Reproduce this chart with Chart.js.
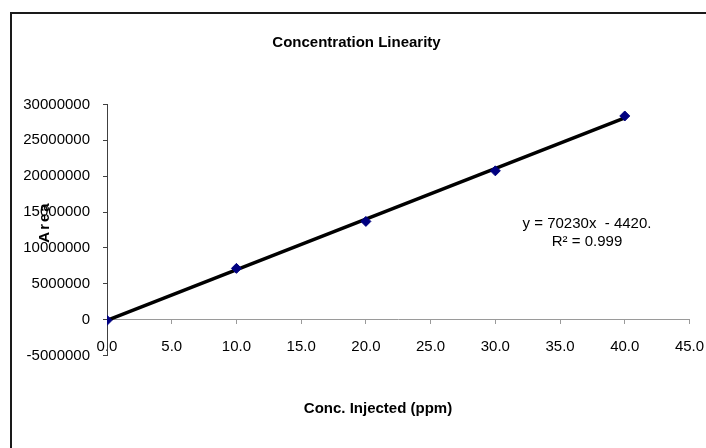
<!DOCTYPE html>
<html>
<head>
<meta charset="utf-8">
<script src="https://cdn.jsdelivr.net/npm/chart.js@4"></script>
<style>
  html, body { margin: 0; padding: 0; background: #fff; }
  #wrap { position: relative; width: 706px; height: 448px; overflow: hidden; background: #fff; }
  #frame { position: absolute; left: 10px; top: 12px; width: 900px; height: 900px; border: 2px solid #1a1a1a; box-sizing: border-box; pointer-events: none; }
  canvas { position: absolute; left: 0; top: 0; }
</style>
</head>
<body>
<div id="wrap">
  <canvas id="c" width="706" height="448"></canvas>
  <div id="frame"></div>
</div>
<script>
// ---- data ----
const chartTitle = 'Concentration Linearity';
const xAxisTitle = 'Conc. Injected (ppm)';
const yAxisTitle = 'Area';
const equationLines = ['y = 70230x  - 4420.', 'R\u00B2 = 0.999'];

const concX = [0, 10, 20, 30, 40];
const areaY = [-100000, 7150000, 13700000, 20750000, 28400000];

const trendX = [0, 40];
const trendY = [-100000, 28150000];

const xTickValues = [0, 5, 10, 15, 20, 25, 30, 35, 40, 45];
const xTickLabels = ['0.0', '5.0', '10.0', '15.0', '20.0', '25.0', '30.0', '35.0', '40.0', '45.0'];
const yTickValues = [-5000000, 0, 5000000, 10000000, 15000000, 20000000, 25000000, 30000000];
const yTickLabels = ['-5000000', '0', '5000000', '10000000', '15000000', '20000000', '25000000', '30000000'];

const FONT = "'Liberation Sans', Arial, sans-serif";

const pointsData = concX.map((x, i) => ({ x: x, y: areaY[i] }));
const trendData = trendX.map((x, i) => ({ x: x, y: trendY[i] }));

const textPlugin = {
  id: 'texts',
  afterDraw(chart) {
    const ctx = chart.ctx;
    ctx.save();
    ctx.fillStyle = '#000';
    ctx.textAlign = 'center';
    ctx.textBaseline = 'middle';
    ctx.font = 'bold 15px ' + FONT;
    ctx.fillText(chartTitle, 356.5, 43);
    ctx.fillText(xAxisTitle, 378, 409);
    ctx.save();
    ctx.translate(45, 222);
    ctx.rotate(-Math.PI / 2);
    try { ctx.letterSpacing = '2px'; } catch (e) {}
    ctx.fillText(yAxisTitle, 0, 0);
    ctx.restore();
    ctx.font = '15px ' + FONT;
    ctx.fillText(equationLines[0], 587, 224);
    ctx.fillText(equationLines[1], 587, 242);
    ctx.restore();
  }
};

new Chart(document.getElementById('c'), {
  type: 'scatter',
  data: {
    datasets: [
      {
        label: 'Area',
        data: pointsData,
        pointStyle: 'rectRot',
        pointRadius: 5,
        pointBackgroundColor: '#000080',
        pointBorderColor: '#000080',
        pointBorderWidth: 1,
        showLine: false,
        order: 0
      },
      {
        label: 'Linear',
        data: trendData,
        showLine: true,
        borderColor: '#000',
        borderWidth: 3.5,
        pointRadius: 0,
        fill: false,
        order: 1
      }
    ]
  },
  options: {
    responsive: false,
    animation: false,
    devicePixelRatio: 1,
    layout: { padding: { top: 104.5, bottom: 92.5, left: 0, right: 16.5 } },
    plugins: {
      legend: { display: false },
      tooltip: { enabled: false },
      title: { display: false }
    },
    scales: {
      x: {
        type: 'linear',
        position: { y: 0 },
        min: 0,
        max: 45,
        afterBuildTicks(scale) { scale.ticks = xTickValues.map(v => ({ value: v })); },
        afterFit(scale) { scale.paddingLeft = 0; scale.paddingRight = 0; },
        ticks: {
          color: '#000',
          font: { family: FONT, size: 15 },
          padding: 14,
          maxRotation: 0,
          autoSkip: false,
          callback(value) { const i = xTickValues.indexOf(value); return i >= 0 ? xTickLabels[i] : ''; }
        },
        grid: { display: true, drawOnChartArea: false, drawTicks: true, tickLength: 4, color: '#9a9a9a' },
        border: { display: true, color: '#9a9a9a', width: 1 }
      },
      y: {
        type: 'linear',
        position: 'left',
        min: -5000000,
        max: 30000000,
        afterBuildTicks(scale) { scale.ticks = yTickValues.map(v => ({ value: v })); },
        afterFit(scale) { scale.width = 107; scale.paddingTop = 0; scale.paddingBottom = 0; },
        ticks: {
          color: '#000',
          font: { family: FONT, size: 15 },
          padding: 13,
          autoSkip: false,
          callback(value) { const i = yTickValues.indexOf(value); return i >= 0 ? yTickLabels[i] : ''; }
        },
        grid: { display: true, drawOnChartArea: false, drawTicks: true, tickLength: 4, color: '#404040' },
        border: { display: true, color: '#404040', width: 1 }
      }
    }
  },
  plugins: [textPlugin]
});
</script>
</body>
</html>
